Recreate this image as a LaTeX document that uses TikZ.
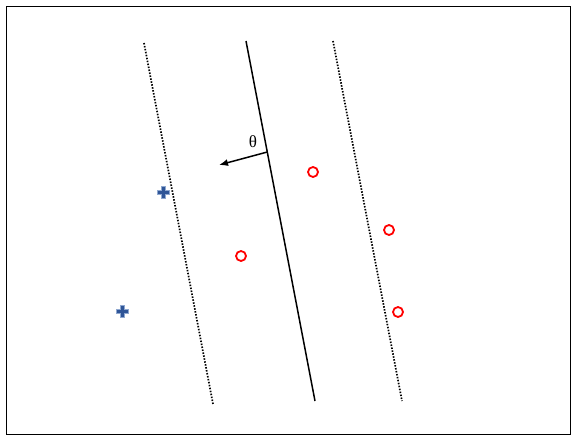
\documentclass[tikz,border=0pt]{standalone}
\usepackage{fontspec}
\setmainfont{Liberation Serif}
\usetikzlibrary{arrows.meta,calc}
\definecolor{plusblue}{HTML}{2F5597}
\definecolor{plusedge}{HTML}{8FA8D0}
\tikzset{
  margin/.style={line width=1.7pt, dash pattern=on 1.5pt off 1.5pt},
  boundary/.style={line width=1.5pt},
  redcirc/.style={circle, draw=red, line width=1.8pt, minimum size=10pt, inner sep=0pt},
}
\newcommand{\plusmark}[1]{%
  \fill[plusblue, draw=plusedge, line width=0.5pt]
    ($(#1)+(-2,-6)$) -- ++(4,0) -- ++(0,4) -- ++(4,0) -- ++(0,4) -- ++(-4,0) -- ++(0,4)
    -- ++(-4,0) -- ++(0,-4) -- ++(-4,0) -- ++(0,-4) -- ++(4,0) -- cycle;}
\begin{document}
\begin{tikzpicture}[x=1pt,y=-1pt]
\useasboundingbox (0,0) rectangle (578,441);
\draw[line width=1pt] (6,7) rectangle (570,434);
% lines
\coordinate (l1) at (144,43); \coordinate (l2) at (213,404);
\coordinate (s1) at (246,41); \coordinate (s2) at (315,401);
\coordinate (r1) at (333,41); \coordinate (r2) at (402,401);
\draw[margin] (l1) -- (l2);
\draw[boundary] (s1) -- (s2);
\draw[margin] (r1) -- (r2);
% normal arrow
\coordinate (foot) at (267.3,152);
\coordinate (tip) at (219,165);
\draw[line width=1.5pt, -{Latex[length=9pt,width=7pt]}] (foot) -- (tip);
\node[font=\fontsize{17}{17}\selectfont, inner sep=0pt] (theta) at (253,142) {θ};
% points
\coordinate (p1) at (163,192);
\coordinate (p2) at (122,311);
\plusmark{p1}
\plusmark{p2}
\node[redcirc] (c1) at (313,172) {};
\node[redcirc] (c2) at (241,256) {};
\node[redcirc] (c3) at (389,230) {};
\node[redcirc] (c4) at (398,312) {};
\end{tikzpicture}
\end{document}
